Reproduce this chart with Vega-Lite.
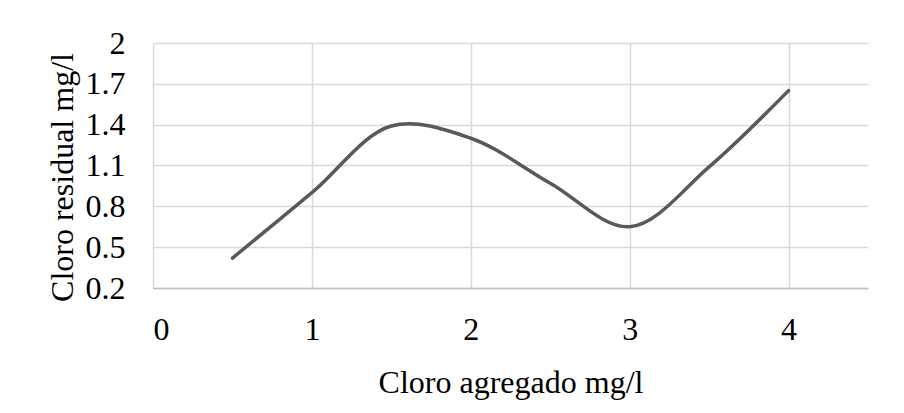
{
  "$schema": "https://vega.github.io/schema/vega-lite/v6.json",
  "autosize": {"type": "none"},
  "padding": {"left": 153, "top": 43, "right": 36, "bottom": 125},
  "width": 715,
  "height": 245,
  "background": "white",
  "config": {
    "view": {"stroke": null},
    "font": "Liberation Serif",
    "axis": {
      "labelFont": "Liberation Serif",
      "titleFont": "Liberation Serif",
      "labelFontSize": 32,
      "titleFontSize": 32,
      "labelColor": "#000000",
      "titleColor": "#000000",
      "titleFontWeight": "normal",
      "gridColor": "#d9d9d9",
      "gridWidth": 1.5,
      "ticks": false
    }
  },
  "data": {
    "values": [
      {"agregado": 0.5, "residual": 0.42},
      {"agregado": 1.0, "residual": 0.9},
      {"agregado": 1.5, "residual": 1.39},
      {"agregado": 2.0, "residual": 1.3},
      {"agregado": 2.5, "residual": 0.97},
      {"agregado": 3.0, "residual": 0.65},
      {"agregado": 3.5, "residual": 1.09},
      {"agregado": 4.0, "residual": 1.65}
    ]
  },
  "mark": {"type": "line", "color": "#595959", "strokeWidth": 3.5, "interpolate": "catmull-rom", "strokeCap": "round"},
  "encoding": {
    "x": {
      "field": "agregado",
      "type": "quantitative",
      "title": "Cloro agregado mg/l",
      "scale": {"domain": [0, 4.5], "nice": false, "zero": false},
      "axis": {
        "values": [0, 1, 2, 3, 4],
        "format": "d",
        "domain": true,
        "domainColor": "#bfbfbf",
        "domainWidth": 1.5,
        "labelPadding": 26,
        "titlePadding": 22
      }
    },
    "y": {
      "field": "residual",
      "type": "quantitative",
      "title": "Cloro residual mg/l",
      "scale": {"domain": [0.2, 2], "nice": false, "zero": false},
      "axis": {
        "values": [0.2, 0.5, 0.8, 1.1, 1.4, 1.7, 2.0],
        "format": ".1~f",
        "domain": false,
        "labelPadding": 28,
        "titlePadding": 6,
        "titleY": 134
      }
    }
  }
}
